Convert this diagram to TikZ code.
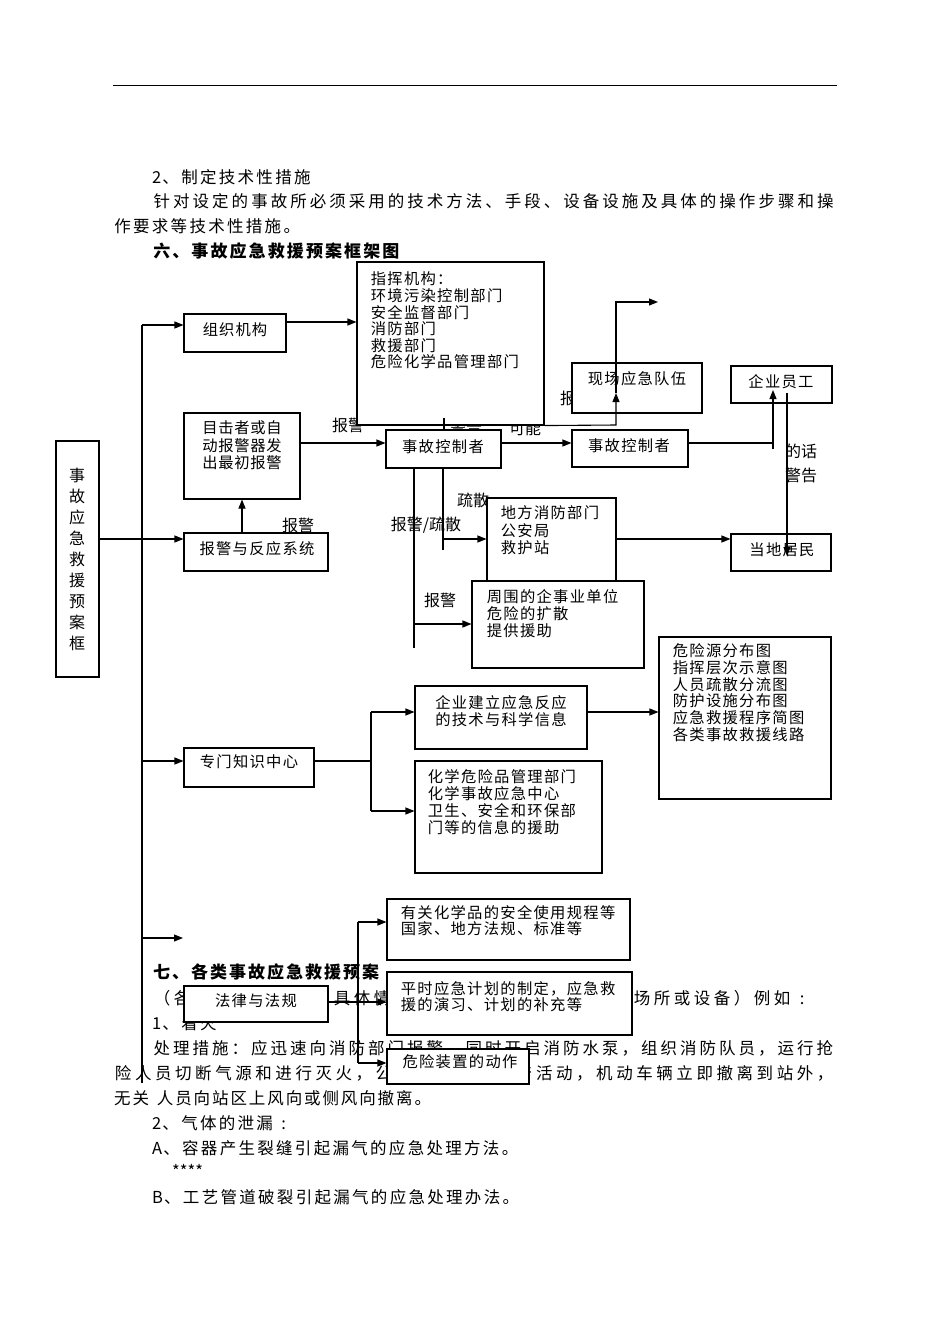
\documentclass[tikz,border=0pt]{standalone}
\usepackage{fontspec}
\setmainfont{Noto Sans CJK SC}
\usetikzlibrary{arrows.meta}
\newdimen\rowpitchdim
\def\rowloop#1{\ifx\relax#1\else\makebox[\rowpitchdim][c]{#1}\expandafter\rowloop\fi}
\newcommand\prow[2]{\rowpitchdim=#1\relax\rowloop#2\relax}
\begin{document}
\begin{tikzpicture}[x=1pt,y=-1pt,
  bt/.style={font=\fontsize{16.5}{18}\selectfont, inner sep=0, anchor=west},
  hd/.style={font=\fontsize{17}{18}\selectfont\bfseries, inner sep=0, anchor=west},
  lb/.style={font=\fontsize{16}{18}\selectfont, inner sep=0},
  bxt/.style={font=\fontsize{15.3}{17}\selectfont, inner sep=0},
  bxl/.style={font=\fontsize{15.3}{17}\selectfont, inner sep=0, anchor=west},
  bx/.style={draw, line width=1.1pt, fill=white, inner sep=0},
  ln/.style={line width=1.1pt},
  arr/.style={line width=1.1pt, -{Triangle[length=9pt,width=7pt]}}]
\useasboundingbox[fill=white] (0,0) rectangle (950,1344);
% page rule
\coordinate (r1) at (113,85); \coordinate (r2) at (837,85);
\draw[line width=1pt] (r1) -- (r2);
% body text
\node[bt] (p1) at (152,177) {2\prow{18.8pt}{、制定技术性措施}};
\node[bt] (p2) at (152,201) {\prow{19.51pt}{针对设定的事故所必须采用的技术方法、手段、设备设施及具体的操作步骤和操}};
\node[bt] (p3) at (113,226) {\prow{18.8pt}{作要求等技术性措施。}};
\node[hd] (h6) at (152,251) {\prow{19.1pt}{六、事故应急救援预案框架图}};
\node[hd] (h7) at (152,972) {\prow{19pt}{七、各类事故应急救援预案}};
\node[bt] (p4a) at (152,998) {\prow{20pt}{（各}};
\node[bt] (p4b) at (332,998) {\prow{20pt}{具体情}};
\node[bt] (p4c) at (632,998) {\prow{20pt}{场所或设备）例如:}};
\node[bt] (p5) at (152,1023) {1\prow{18.8pt}{、着火}};
\node[bt] (p6) at (152,1048) {\prow{19.5pt}{处理措施：应迅速向消防部门报警，同时开启消防水泵，组织消防队员，运行抢}};
\node[bt] (p7a) at (113,1073) {\prow{20.06pt}{险人员切断气源和进行灭火，公}};
\node[bt] (p7b) at (514,1073) {\prow{20.06pt}{产活动，机动车辆立即撤离到站外，}};
\node[bt] (p8) at (113,1098) {\prow{18.4pt}{无关}\hspace{6pt}\prow{18.4pt}{人员向站区上风向或侧风向撤离。}};
\node[bt] (p9) at (152,1123) {2\prow{18.8pt}{、气体的泄漏:}};
\node[bt] (p10) at (152,1148) {A\prow{18.8pt}{、容器产生裂缝引起漏气的应急处理方法。}};
\node[bt] (p11) at (172,1171) {****};
\node[bt] (p12) at (152,1197) {B\prow{18.8pt}{、工艺管道破裂引起漏气的应急处理办法。}};
% labels
\node[lb] (l1) at (298,525) {报警};
\node[lb] (l2) at (348,425) {报警};
\node[lb] (l3) at (466,427) {警告};
\node[lb] (l4) at (525,428) {可能};
\node[lb, anchor=west] (l5) at (560,398) {报警};
\node[lb] (l6) at (473,500) {疏散};
\node[lb] (l7) at (426,525) {报警/疏散};
\node[lb] (l8) at (440,600) {报警};
\node[lb] (l9) at (801,451) {的话};
\node[lb] (l10) at (801,475) {警告};
% boxes
\node[bx, minimum width=43pt, minimum height=236pt] (lf) at (77.5,559) {};
\node[bx, minimum width=102pt, minimum height=38pt] (zz) at (235,333) {};
\node[bx, minimum width=187pt, minimum height=163pt] (zh) at (450.5,343.5) {};
\node[bx, minimum width=116pt, minimum height=86pt] (mj) at (242,456) {};
\node[bx, minimum width=144pt, minimum height=38pt] (bj) at (256,552) {};
\node[bx, minimum width=115pt, minimum height=38pt] (sk1) at (443.5,449) {};
\node[bx, minimum width=130pt, minimum height=50pt] (xc) at (637,388) {};
\node[bx, minimum width=116pt, minimum height=37pt] (sk2) at (630,448.5) {};
\node[bx, minimum width=101pt, minimum height=37pt] (qy) at (781.5,384.5) {};
\node[bx, minimum width=100pt, minimum height=37pt] (dj) at (781,552.5) {};
\node[bx, minimum width=129pt, minimum height=102pt] (df) at (551.5,549) {};
\node[bx, minimum width=172pt, minimum height=87pt] (zw) at (558,624.5) {};
\node[bx, minimum width=130pt, minimum height=39pt] (zm) at (249,767.5) {};
\node[bx, minimum width=172pt, minimum height=63pt] (qj) at (501,717.5) {};
\node[bx, minimum width=187pt, minimum height=112pt] (hx) at (508.5,817) {};
\node[bx, minimum width=172pt, minimum height=162pt] (wx) at (745,718) {};
\node[bx, minimum width=243pt, minimum height=61pt] (yg) at (508.5,929.5) {};
\node[bx, minimum width=245pt, minimum height=63pt] (ps) at (509.5,1003.5) {};
\node[bx, minimum width=144pt, minimum height=36pt] (fl) at (256,1004) {};
\node[bx, minimum width=142pt, minimum height=35pt] (wz) at (458,1066.5) {};
% box texts
\node[font=\fontsize{16}{21}\selectfont, align=center, inner sep=0] (lft) at (77,559) {事\\故\\应\\急\\救\\援\\预\\案\\框};
\node[bxt] (zzt) at (235,330) {\prow{16.4pt}{组织机构}};
\node[bxl] (zh1) at (370,279) {\prow{16.6pt}{指挥机构：}};
\node[bxl] (zh2) at (370,295.6) {\prow{16.6pt}{环境污染控制部门}};
\node[bxl] (zh3) at (370,312.2) {\prow{16.6pt}{安全监督部门}};
\node[bxl] (zh4) at (370,328.8) {\prow{16.6pt}{消防部门}};
\node[bxl] (zh5) at (370,345.4) {\prow{16.6pt}{救援部门}};
\node[bxl] (zh6) at (370,362) {\prow{16.6pt}{危险化学品管理部门}};
\node[bxt] (mj1) at (242,428) {\prow{16pt}{目击者或自}};
\node[bxt] (mj2) at (242,446) {\prow{16pt}{动报警器发}};
\node[bxt] (mj3) at (242,463) {\prow{16pt}{出最初报警}};
\node[bxt] (bjt) at (257,549) {\prow{16.6pt}{报警与反应系统}};
\node[bxt] (sk1t) at (443,447) {\prow{16.6pt}{事故控制者}};
\node[bxt] (xct) at (637,379) {\prow{16.6pt}{现场应急队伍}};
\node[bxt] (sk2t) at (629,446) {\prow{16.6pt}{事故控制者}};
\node[bxt] (qyt) at (781,382) {\prow{16.6pt}{企业员工}};
\node[bxt] (djt) at (782,550) {\prow{16.6pt}{当地居民}};
\node[bxl] (df1) at (500,513) {\prow{16.6pt}{地方消防部门}};
\node[bxl] (df2) at (500,530.5) {\prow{16.6pt}{公安局}};
\node[bxl] (df3) at (500,548) {\prow{16.6pt}{救护站}};
\node[bxl] (zw1) at (486,597) {\prow{16.6pt}{周围的企事业单位}};
\node[bxl] (zw2) at (486,614) {\prow{16.6pt}{危险的扩散}};
\node[bxl] (zw3) at (486,631) {\prow{16.6pt}{提供援助}};
\node[bxt] (zmt) at (249,762) {\prow{16.6pt}{专门知识中心}};
\node[bxt] (qj1) at (501,703) {\prow{16.6pt}{企业建立应急反应}};
\node[bxt] (qj2) at (501,720) {\prow{16.6pt}{的技术与科学信息}};
\node[bxl] (hx1) at (427,777) {\prow{16.6pt}{化学危险品管理部门}};
\node[bxl] (hx2) at (427,794) {\prow{16.6pt}{化学事故应急中心}};
\node[bxl] (hx3) at (427,811) {\prow{16.6pt}{卫生、安全和环保部}};
\node[bxl] (hx4) at (427,828) {\prow{16.6pt}{门等的信息的援助}};
\node[bxl] (wx1) at (672,651) {\prow{16.6pt}{危险源分布图}};
\node[bxl] (wx2) at (672,667.7) {\prow{16.6pt}{指挥层次示意图}};
\node[bxl] (wx3) at (672,684.4) {\prow{16.6pt}{人员疏散分流图}};
\node[bxl] (wx4) at (672,701.1) {\prow{16.6pt}{防护设施分布图}};
\node[bxl] (wx5) at (672,717.8) {\prow{16.6pt}{应急救援程序简图}};
\node[bxl] (wx6) at (672,734.5) {\prow{16.6pt}{各类事故救援线路}};
\node[bxl] (yg1) at (400,913) {\prow{16.6pt}{有关化学品的安全使用规程等}};
\node[bxl] (yg2) at (400,929) {\prow{16.6pt}{国家、地方法规、标准等}};
\node[bxl] (ps1) at (400,989) {\prow{16.6pt}{平时应急计划的制定，应急救}};
\node[bxl] (ps2) at (400,1005) {\prow{16.6pt}{援的演习、计划的补充等}};
\node[bxt] (flt) at (256,1001) {\prow{16.6pt}{法律与法规}};
\node[bxt] (wzt) at (460,1062) {\prow{16.6pt}{危险装置的动作}};
% helper coordinates
\coordinate (h322) at (0,322);
\coordinate (h443) at (0,443);
\coordinate (h539) at (0,539);
\coordinate (h624) at (0,624);
\coordinate (h712) at (0,712);
\coordinate (h761) at (0,761);
\coordinate (h1002) at (0,1002);
\coordinate (mtop) at (142,325);
\coordinate (mbot) at (142,1083);
% connectors
\draw[ln] (mbot) -- (mtop);
\draw[arr] (mtop) -- (zz.west |- mtop);
\draw[arr] (zz.east |- h322) -- (zh.west |- h322);
\draw[arr] (lf.east |- h539) -- (bj.west |- h539);
\draw[arr] (mj.south |- bj.north) -- (mj.south);
\draw[arr] (mj.east |- h443) -- (sk1.west |- h443);
\coordinate (c1) at (444,418);
\draw[ln] (sk1.north -| c1) -- (c1);
\draw[arr] (sk1.east |- h443) -- (sk2.west |- h443);
\coordinate (c2) at (616,425);
\coordinate (c3) at (616,393);
\coordinate (c4) at (616,302);
\coordinate (c5) at (658,302);
\draw[arr] (zh.south east) -- (c2) -- (c3);
\draw[arr] (c3) -- (c4) -- (c5);
\coordinate (c6) at (773,443);
\coordinate (c7) at (773,449);
\coordinate (c8) at (773,390);
\draw[ln] (sk2.east |- h443) -- (c6);
\draw[arr] (c7) -- (c8);
\coordinate (c9) at (787,393);
\coordinate (c10) at (787,556);
\draw[arr] (c9) -- (c10);
\draw[arr] (df.east |- h539) -- (dj.west |- h539);
\coordinate (c11) at (414,648);
\draw[ln] (sk1.south -| c11) -- (c11);
\draw[arr] (c11 |- h624) -- (zw.west |- h624);
\coordinate (c12) at (443,550);
\draw[ln] (sk1.south -| c12) -- (c12);
\draw[arr] (c12 |- h539) -- (df.west |- h539);
\draw[arr] (mtop |- h761) -- (zm.west |- h761);
\coordinate (c13) at (371,712);
\coordinate (c14) at (371,811);
\draw[ln] (zm.east |- h761) -- (c13 |- h761);
\draw[ln] (c13) -- (c14);
\draw[arr] (c13) -- (qj.west |- c13);
\draw[arr] (c14) -- (hx.west |- c14);
\draw[arr] (qj.east |- h712) -- (wx.west |- h712);
\coordinate (c15) at (183,938);
\draw[arr] (mtop |- c15) -- (c15);
\coordinate (c16) at (358,922);
\coordinate (c17) at (358,1063);
\draw[arr] (c16) -- (yg.west |- c16);
\draw[ln] (c16) -- (c17);
\draw[arr] (c17) -- (wz.west |- c17);
\draw[arr] (fl.east |- h1002) -- (ps.west |- h1002);
\end{tikzpicture}
\end{document}
